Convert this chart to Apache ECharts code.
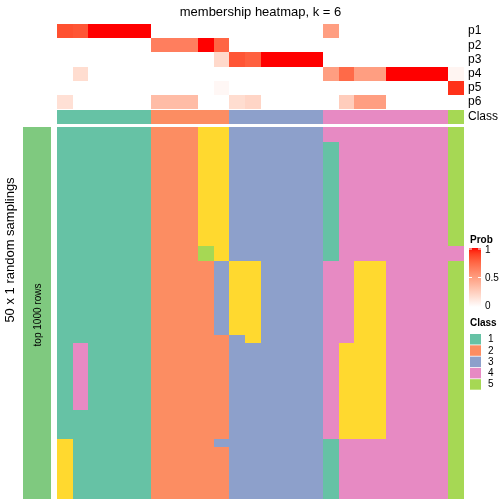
<!DOCTYPE html>
<html><head><meta charset="utf-8">
<script src="https://cdn.jsdelivr.net/npm/echarts@6/dist/echarts.min.js"></script>
<style>html,body{margin:0;padding:0;background:#fff}#c{width:504px;height:504px}</style>
</head><body><div id="c"></div>
<script>
// ---------- data ----------
const titleText = 'membership heatmap, k = 6';
const probRows = ['p1', 'p2', 'p3', 'p4', 'p5', 'p6'];
const p1 = [0.84,0.82,1,1,1,1,0,0,0,0,0,0,0,0,0,0,0,0.5,0,0,0,0,0,0,0,0];
const p2 = [0,0,0,0,0,0,0.65,0.65,0.65,1,0.76,0,0,0,0,0,0,0,0,0,0,0,0,0,0,0];
const p3 = [0,0,0,0,0,0,0,0,0,0,0.2,0.82,0.78,1,1,1,1,0,0,0,0,0,0,0,0,0];
const p4 = [0,0.18,0,0,0,0,0,0,0,0,0,0,0,0,0,0,0,0.5,0.74,0.5,0.5,1,1,1,1,0.05];
const p5 = [0,0,0,0,0,0,0,0,0,0,0.04,0,0,0,0,0,0,0,0,0,0,0,0,0,0,0.93];
const p6 = [0.16,0,0,0,0,0,0.35,0.35,0.35,0,0,0.18,0.22,0,0,0,0,0,0.26,0.5,0.5,0,0,0,0,0];
const classRow = [1,1,1,1,1,1,2,2,2,2,2,3,3,3,3,3,3,4,4,4,4,4,4,4,4,5];
// main heatmap: one string per column, 50 samplings (top to bottom)
const samplingCols = [
  "1111111111 1111111111 1111111111 1111111111 1166666666",
  "1111111111 1111111111 1111111114 4444444411 1111111111",
  "1111111111 1111111111 1111111111 1111111111 1111111111",
  "1111111111 1111111111 1111111111 1111111111 1111111111",
  "1111111111 1111111111 1111111111 1111111111 1111111111",
  "1111111111 1111111111 1111111111 1111111111 1111111111",
  "2222222222 2222222222 2222222222 2222222222 2222222222",
  "2222222222 2222222222 2222222222 2222222222 2222222222",
  "2222222222 2222222222 2222222222 2222222222 2222222222",
  "6666666666 6666665522 2222222222 2222222222 2222222222",
  "6666666666 6666666633 3333333322 2222222222 2232222222",
  "3333333333 3333333366 6666666633 3333333333 3333333333",
  "3333333333 3333333366 6666666663 3333333333 3333333333",
  "3333333333 3333333333 3333333333 3333333333 3333333333",
  "3333333333 3333333333 3333333333 3333333333 3333333333",
  "3333333333 3333333333 3333333333 3333333333 3333333333",
  "3333333333 3333333333 3333333333 3333333333 3333333333",
  "4411111111 1111111144 4444444444 4444444444 4411111111",
  "4444444444 4444444444 4444444446 6666666666 6644444444",
  "4444444444 4444444466 6666666666 6666666666 6644444444",
  "4444444444 4444444466 6666666666 6666666666 6644444444",
  "4444444444 4444444444 4444444444 4444444444 4444444444",
  "4444444444 4444444444 4444444444 4444444444 4444444444",
  "4444444444 4444444444 4444444444 4444444444 4444444444",
  "4444444444 4444444444 4444444444 4444444444 4444444444",
  "5555555555 5555554455 5555555555 5555555555 5555555555"
];
const classLegend = ['1', '2', '3', '4', '5'];
const probTicks = ['1', '0.5', '0'];
const leftTitle = '50 x 1 random samplings';
const leftAnno = 'top 1000 rows';

// ---------- styles ----------
const FONT = 'Liberation Sans, Arial, Helvetica, sans-serif';
const classColors = {1:'#66C2A5', 2:'#FC8D62', 3:'#8DA0CB', 4:'#E78AC3', 5:'#A6D854', 6:'#FFD92F'};

// LAB interpolation white -> red (like colorRamp2)
function s2l(c){c/=255;return c<=0.04045?c/12.92:Math.pow((c+0.055)/1.055,2.4);}
function l2s(v){v=Math.max(0,Math.min(1,v));v=v<=0.0031308?12.92*v:1.055*Math.pow(v,1/2.4)-0.055;return Math.round(v*255);}
function rgb2lab(r,g,b){const R=s2l(r),G=s2l(g),B=s2l(b);
  const X=(0.4124*R+0.3576*G+0.1805*B)/0.95047,Y=0.2126*R+0.7152*G+0.0722*B,Z=(0.0193*R+0.1192*G+0.9505*B)/1.08883;
  const f=t=>t>0.008856?Math.cbrt(t):(7.787*t+16/116);
  const fx=f(X),fy=f(Y),fz=f(Z);return [116*fy-16,500*(fx-fy),200*(fy-fz)];}
function lab2rgb(L,a,b){const fy=(L+16)/116,fx=fy+a/500,fz=fy-b/200;
  const inv=t=>t*t*t>0.008856?t*t*t:(t-16/116)/7.787;
  const X=inv(fx)*0.95047,Y=inv(fy),Z=inv(fz)*1.08883;
  const R=3.2406*X-1.5372*Y-0.4986*Z,G=-0.9689*X+1.8758*Y+0.0415*Z,B=0.0557*X-0.2040*Y+1.0570*Z;
  return 'rgb('+l2s(R)+','+l2s(G)+','+l2s(B)+')';}
const labW = rgb2lab(255,255,255), labR = rgb2lab(255,0,0);
const ramp = [];
for (let i = 0; i <= 20; i++) { const t = i/20; ramp.push(lab2rgb(labW[0]+(labR[0]-labW[0])*t, labW[1]+(labR[1]-labW[1])*t, labW[2]+(labR[2]-labW[2])*t)); }

// ---------- build data ----------
const colIdx = classRow.map((_, i) => String(i));
const probAll = [p1, p2, p3, p4, p5, p6];
const probData = [];
probAll.forEach((arr, r) => arr.forEach((v, c) => probData.push([c, r, v])));
const classData = classRow.map((v, c) => [c, 0, v]);
const mainCols = samplingCols.map(s => s.replace(/ /g, ''));
const nRows = mainCols[0].length;
const rowIdx = [];
for (let r = 0; r < nRows; r++) rowIdx.push(String(r));
const mainData = [];
mainCols.forEach((s, c) => { for (let r = 0; r < s.length; r++) mainData.push([c, r, Number(s[r])]); });

const L = 57, W = 407;
const hiddenX = (gi) => ({type:'category', gridIndex:gi, data:colIdx, show:false, boundaryGap:true});
const labelAxis = {axisLine:{show:false}, axisTick:{show:false}, splitLine:{show:false},
  axisLabel:{show:true, interval:0, margin:4, fontSize:12, color:'#000', fontFamily:FONT}};

// cell renderer snapped to whole pixels (no seams)
const snap = v => Math.round(Math.round(v * 100) / 100);
function cell(params, api) {
  const p = api.coord([api.value(0), api.value(1)]);
  const s = api.size([1, 1]);
  const x0 = snap(p[0] - s[0]/2), x1 = snap(p[0] + s[0]/2);
  const y0 = snap(p[1] - s[1]/2), y1 = snap(p[1] + s[1]/2);
  return {type:'rect', shape:{x:x0, y:y0, width:x1-x0, height:y1-y0}, style:{fill:api.visual('color')}};
}
const cellSeries = (gi, data) => ({type:'custom', xAxisIndex:gi, yAxisIndex:gi, data:data,
  encode:{x:0, y:1}, renderItem:cell, silent:true});

const chart = echarts.init(document.getElementById('c'), null, {renderer:'canvas'});

// texts and legends
const g = [];
g.push({type:'text', x:260.5, y:12, style:{text:titleText, font:'13px '+FONT, fill:'#000', align:'center', verticalAlign:'middle'}});
g.push({type:'text', x:10, y:250, rotation:Math.PI/2, style:{text:leftTitle, font:'13px '+FONT, fill:'#000', align:'center', verticalAlign:'middle'}});
g.push({type:'rect', shape:{x:23, y:127, width:28, height:372}, style:{fill:'#7FC97F'}});
g.push({type:'text', x:38, y:315, rotation:Math.PI/2, style:{text:leftAnno, font:'10px '+FONT, fill:'#000', align:'center', verticalAlign:'middle'}});
// Prob legend
g.push({type:'text', x:470, y:240, style:{text:'Prob', font:'bold 10px '+FONT, fill:'#000', align:'left', verticalAlign:'middle'}});
const stops = ramp.slice().reverse().map((c, i) => ({offset:i/20, color:c}));
g.push({type:'rect', shape:{x:469, y:248, width:12, height:59}, style:{fill:{type:'linear', x:0, y:0, x2:0, y2:1, colorStops:stops}}});
const tickY = [250, 278.5, 306];
tickY.forEach((y, i) => {
  g.push({type:'text', x:485, y:y, style:{text:probTicks[i], font:'10px '+FONT, fill:'#000', align:'left', verticalAlign:'middle'}});
  if (i < 2) {
    g.push({type:'line', shape:{x1:469, y1:y-1, x2:472, y2:y-1}, style:{stroke:'#fff', lineWidth:1}});
    g.push({type:'line', shape:{x1:478, y1:y-1, x2:481, y2:y-1}, style:{stroke:'#fff', lineWidth:1}});
  }
});
// Class legend
g.push({type:'text', x:470, y:323, style:{text:'Class', font:'bold 10px '+FONT, fill:'#000', align:'left', verticalAlign:'middle'}});
classLegend.forEach((lab, i) => {
  const y = 334 + i*11.3;
  g.push({type:'rect', shape:{x:470, y:y, width:11, height:10.5}, style:{fill:classColors[Number(lab)]}});
  g.push({type:'text', x:488, y:y+5.5, style:{text:lab, font:'10px '+FONT, fill:'#000', align:'left', verticalAlign:'middle'}});
});

chart.setOption({
  animation:false,
  backgroundColor:'#fff',
  grid:[
    {left:L, top:24, width:W, height:85},
    {left:L, top:110, width:W, height:14},
    {left:L, top:127, width:W, height:372}
  ],
  xAxis:[hiddenX(0), hiddenX(1), hiddenX(2)],
  yAxis:[
    Object.assign({type:'category', gridIndex:0, data:probRows, inverse:true, position:'right'}, labelAxis),
    Object.assign({type:'category', gridIndex:1, data:['Class'], inverse:true, position:'right'}, labelAxis),
    {type:'category', gridIndex:2, data:rowIdx, inverse:true, show:false}
  ],
  visualMap:[
    {type:'continuous', min:0, max:1, seriesIndex:0, show:false, dimension:2, inRange:{color:ramp}},
    {type:'piecewise', seriesIndex:[1,2], show:false, dimension:2,
      pieces:[1,2,3,4,5,6].map(v => ({value:v, color:classColors[v]}))}
  ],
  series:[
    cellSeries(0, probData),
    cellSeries(1, classData),
    cellSeries(2, mainData)
  ],
  graphic:g
});
</script></body></html>
